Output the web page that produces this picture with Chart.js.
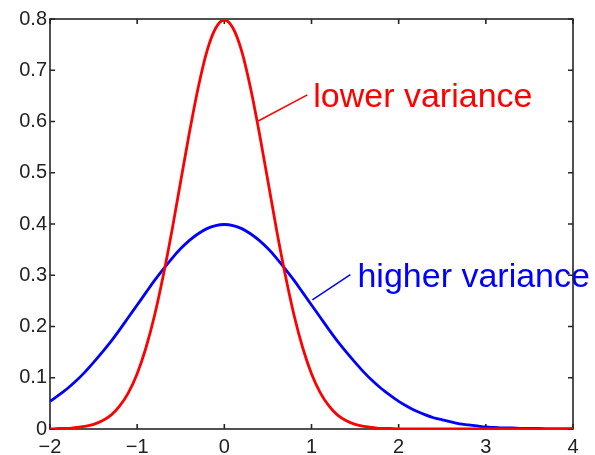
<!DOCTYPE html>
<html>
<head>
<meta charset="utf-8">
<script src="https://cdn.jsdelivr.net/npm/chart.js@4/dist/chart.umd.min.js"></script>
<style>
  html, body { margin: 0; padding: 0; background: #fff; }
  #wrap { width: 595px; height: 455px; }
</style>
</head>
<body>
<div id="wrap"><canvas id="chart" width="595" height="455"></canvas></div>
<script>
// x positions, read every 0.1 along the axis
const xValues = [
  -2.0, -1.9, -1.8, -1.7, -1.6, -1.5, -1.4, -1.3, -1.2, -1.1,
  -1.0, -0.9, -0.8, -0.7, -0.6, -0.5, -0.4, -0.3, -0.2, -0.1,
  0.0, 0.1, 0.2, 0.3, 0.4, 0.5, 0.6, 0.7, 0.8, 0.9,
  1.0, 1.1, 1.2, 1.3, 1.4, 1.5, 1.6, 1.7, 1.8, 1.9,
  2.0, 2.1, 2.2, 2.3, 2.4, 2.5, 2.6, 2.7, 2.8, 2.9,
  3.0, 3.1, 3.2, 3.3, 3.4, 3.5, 3.6, 3.7, 3.8, 3.9, 4.0,
];

// red curve (lower variance)
const lowerVariance = [
  0.000, 0.001, 0.001, 0.003, 0.005, 0.009, 0.016, 0.027, 0.045, 0.071,
  0.108, 0.158, 0.222, 0.300, 0.388, 0.484, 0.579, 0.666, 0.737, 0.782,
  0.798, 0.782, 0.737, 0.666, 0.579, 0.484, 0.388, 0.300, 0.222, 0.158,
  0.108, 0.071, 0.045, 0.027, 0.016, 0.009, 0.005, 0.003, 0.001, 0.001,
  0.000, 0.000, 0.000, 0.000, 0.000, 0.000, 0.000, 0.000, 0.000, 0.000,
  0.000, 0.000, 0.000, 0.000, 0.000, 0.000, 0.000, 0.000, 0.000, 0.000, 0.000,
];

// blue curve (higher variance)
const higherVariance = [
  0.054, 0.066, 0.079, 0.094, 0.111, 0.130, 0.150, 0.171, 0.194, 0.218,
  0.242, 0.266, 0.290, 0.312, 0.333, 0.352, 0.368, 0.381, 0.391, 0.397,
  0.399, 0.397, 0.391, 0.381, 0.368, 0.352, 0.333, 0.312, 0.290, 0.266,
  0.242, 0.218, 0.194, 0.171, 0.150, 0.130, 0.111, 0.094, 0.079, 0.066,
  0.054, 0.044, 0.035, 0.028, 0.022, 0.018, 0.014, 0.010, 0.008, 0.006,
  0.004, 0.003, 0.002, 0.002, 0.001, 0.001, 0.001, 0.000, 0.000, 0.000, 0.000,
];

const xTicks = [-2, -1, 0, 1, 2, 3, 4];
const yTicks = [0, 0.1, 0.2, 0.3, 0.4, 0.5, 0.6, 0.7, 0.8];

// annotations, in data units
const notes = [
  { text: 'lower variance', color: '#ff0000', at: [1.02, 0.629], from: [0.389, 0.601], to: [0.952, 0.652] },
  { text: 'higher variance', color: '#0000ff', at: [1.527, 0.278], from: [1.010, 0.252], to: [1.446, 0.301] },
];

const FONT = '"Liberation Sans", Arial, Helvetica, sans-serif';
const AXIS = '#262626';

const toPoints = (ys) => xValues.map((x, i) => ({ x, y: ys[i] }));

const frame = {
  id: 'frame',
  beforeDatasetsDraw(chart) {
    const { ctx, chartArea: a, scales: { x, y } } = chart;
    ctx.save();
    // text annotations with leader lines
    notes.forEach((n) => {
      ctx.strokeStyle = n.color;
      ctx.lineWidth = 1.5;
      ctx.beginPath();
      ctx.moveTo(x.getPixelForValue(n.from[0]), y.getPixelForValue(n.from[1]));
      ctx.lineTo(x.getPixelForValue(n.to[0]), y.getPixelForValue(n.to[1]));
      ctx.stroke();
      ctx.fillStyle = n.color;
      ctx.font = `34px ${FONT}`;
      ctx.textBaseline = 'alphabetic';
      ctx.textAlign = 'left';
      ctx.fillText(n.text, x.getPixelForValue(n.at[0]), y.getPixelForValue(n.at[1]));
    });
    // box
    ctx.strokeStyle = AXIS;
    ctx.lineWidth = 1.6;
    ctx.strokeRect(a.left, a.top, a.right - a.left, a.bottom - a.top);
    // inward ticks on all four sides
    const len = 5;
    ctx.beginPath();
    xTicks.forEach((v) => {
      const px = x.getPixelForValue(v);
      ctx.moveTo(px, a.bottom); ctx.lineTo(px, a.bottom - len);
      ctx.moveTo(px, a.top); ctx.lineTo(px, a.top + len);
    });
    yTicks.forEach((v) => {
      const py = y.getPixelForValue(v);
      ctx.moveTo(a.left, py); ctx.lineTo(a.left + len, py);
      ctx.moveTo(a.right, py); ctx.lineTo(a.right - len, py);
    });
    ctx.stroke();
    ctx.restore();
  },
};

new Chart(document.getElementById('chart'), {
  type: 'line',
  data: {
    datasets: [
      {
        label: 'lower variance',
        data: toPoints(lowerVariance),
        borderColor: '#ff0000',
        borderWidth: 2.8,
        pointRadius: 0,
        cubicInterpolationMode: 'monotone',
        fill: false,
      },
      {
        label: 'higher variance',
        data: toPoints(higherVariance),
        borderColor: '#0000ff',
        borderWidth: 2.8,
        pointRadius: 0,
        cubicInterpolationMode: 'monotone',
        fill: false,
      },
    ],
  },
  options: {
    responsive: false,
    animation: false,
    events: [],
    layout: { padding: { top: 19, right: 22, left: 0, bottom: 0 } },
    plugins: { legend: { display: false }, tooltip: { enabled: false } },
    scales: {
      x: {
        type: 'linear',
        min: -2,
        max: 4,
        grid: { display: false, drawTicks: false },
        border: { display: false },
        afterBuildTicks: (s) => { s.ticks = xTicks.map((value) => ({ value })); },
        afterFit: (s) => { s.height = 26; },
        ticks: {
          color: '#222',
          font: { family: FONT, size: 20 },
          padding: 6,
          maxRotation: 0,
          callback: (v) => (v < 0 ? '\u2212' + Math.abs(v) : String(v)),
        },
      },
      y: {
        type: 'linear',
        min: 0,
        max: 0.8,
        grid: { display: false, drawTicks: false },
        border: { display: false },
        afterBuildTicks: (s) => { s.ticks = yTicks.map((value) => ({ value })); },
        afterFit: (s) => { s.width = 50; },
        ticks: {
          color: '#222',
          font: { family: FONT, size: 20 },
          padding: 3,
          callback: (v) => String(+Number(v).toFixed(1)),
        },
      },
    },
  },
  plugins: [frame],
});
</script>
</body>
</html>
